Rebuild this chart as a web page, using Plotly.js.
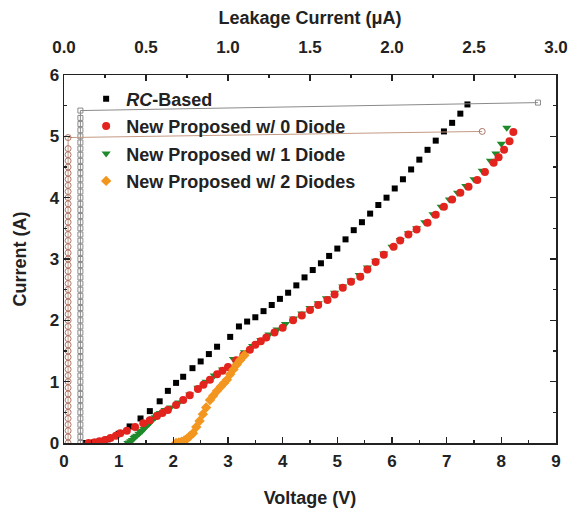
<!DOCTYPE html>
<html>
<head>
<meta charset="utf-8">
<script src="https://cdn.plot.ly/plotly-3.0.1.min.js"></script>
<style>html,body{margin:0;padding:0;background:#fff;}</style>
</head>
<body>
<div id="chart" style="width:574px;height:514px;"></div>
<script>
// ---- Data ----
const rcV = [0.4,0.6,0.8,1.0,1.2,1.4,1.57,1.75,1.9,2.05,2.18,2.35,2.5,2.65,2.8,3.04,3.2,3.35,3.5,3.65,3.8,3.95,4.1,4.25,4.4,4.55,4.7,4.85,5.0,5.15,5.3,5.45,5.6,5.75,5.9,6.05,6.2,6.35,6.5,6.65,6.8,6.95,7.1,7.25,7.38];
const rcI = [0,0.02,0.06,0.15,0.27,0.4,0.52,0.68,0.85,0.98,1.08,1.22,1.33,1.45,1.57,1.73,1.9,1.98,2.05,2.15,2.25,2.35,2.45,2.57,2.7,2.82,2.93,3.05,3.17,3.32,3.47,3.6,3.74,3.88,4.0,4.15,4.3,4.46,4.62,4.78,4.93,5.08,5.22,5.37,5.52];

const d0V = [0.45,0.55,0.65,0.75,0.85,0.95,1.03,1.15,1.3,1.45,1.57,1.7,1.8,1.9,2.05,2.18,2.3,2.45,2.55,2.67,2.8,2.9,3.0,3.15,3.28,3.4,3.5,3.6,3.7,3.85,4.0,4.19,4.35,4.5,4.65,4.82,4.95,5.1,5.25,5.42,5.55,5.7,5.85,6.03,6.15,6.3,6.45,6.65,6.8,6.95,7.1,7.25,7.4,7.56,7.7,7.86,7.95,8.05,8.15,8.22];
const d0I = [0,0.01,0.03,0.05,0.08,0.12,0.16,0.2,0.26,0.32,0.37,0.44,0.49,0.54,0.62,0.7,0.78,0.88,0.95,1.03,1.12,1.18,1.24,1.35,1.43,1.52,1.6,1.66,1.72,1.8,1.88,2.0,2.08,2.17,2.25,2.33,2.42,2.53,2.63,2.71,2.83,2.95,3.07,3.2,3.3,3.4,3.48,3.59,3.72,3.85,3.97,4.08,4.18,4.29,4.42,4.57,4.66,4.78,4.92,5.07];

const d1V = [1.17,1.2,1.22,1.25,1.28,1.3,1.33,1.37,1.4,1.43,1.46,1.49,1.52,1.55,1.58,1.61,1.64,1.67,1.7,1.73,1.76,1.85,1.95,2.1,2.3,2.45,2.6,2.75,2.9,3.1,3.3,3.45,3.6,3.75,3.9,4.05,4.2,4.35,4.5,4.65,4.8,4.95,5.1,5.25,5.4,5.55,5.7,5.85,6.0,6.15,6.3,6.45,6.6,6.75,6.9,7.05,7.2,7.35,7.5,7.65,7.8,7.9,8.0,8.1];
const d1I = [0,0.01,0.03,0.05,0.08,0.1,0.12,0.15,0.18,0.2,0.23,0.26,0.29,0.31,0.34,0.37,0.4,0.42,0.45,0.47,0.49,0.54,0.58,0.66,0.79,0.9,1.0,1.1,1.2,1.37,1.48,1.58,1.68,1.77,1.85,1.94,2.03,2.11,2.2,2.28,2.36,2.45,2.55,2.65,2.74,2.86,2.97,3.09,3.2,3.31,3.42,3.5,3.6,3.73,3.85,3.97,4.08,4.19,4.3,4.44,4.6,4.72,4.88,5.14];

const d2V = [2.05,2.1,2.15,2.2,2.25,2.3,2.36,2.42,2.48,2.54,2.6,2.67,2.73,2.8,2.87,2.93,2.98,3.04,3.1,3.16,3.22,3.3];
const d2I = [0,0.01,0.02,0.04,0.07,0.11,0.16,0.26,0.36,0.47,0.58,0.7,0.77,0.85,0.92,0.98,1.03,1.12,1.2,1.28,1.35,1.43];

// Leakage current (top axis, uA) vs current (A)
const leakRcX = [0.1,0.1,0.1,0.1,0.1,0.1,0.1,0.1,0.1,0.1,0.1,0.1,0.1,0.1,0.1,0.1,0.1,0.1,0.1,0.1,0.1,0.1,0.1,0.1,0.1,0.1,0.1,0.1,0.1,0.1,0.1,0.1,0.1,0.1,0.1,0.1,0.1,0.1,0.1,0.1,0.1,0.1,0.1,0.1,0.1,0.1,0.1,0.1,0.1,0.1,0.1,0.1,0.1,0.1,0.1,2.89];
const leakRcI = [0,0.1,0.2,0.3,0.4,0.5,0.6,0.7,0.8,0.9,1.0,1.1,1.2,1.3,1.4,1.5,1.6,1.7,1.8,1.9,2.0,2.1,2.2,2.3,2.4,2.5,2.6,2.7,2.8,2.9,3.0,3.1,3.2,3.3,3.4,3.5,3.6,3.7,3.8,3.9,4.0,4.1,4.2,4.3,4.4,4.5,4.6,4.7,4.8,4.9,5.0,5.1,5.2,5.3,5.42,5.55];
const leakNewX = [0.025,0.025,0.025,0.025,0.025,0.025,0.025,0.025,0.025,0.025,0.025,0.025,0.025,0.025,0.025,0.025,0.025,0.025,0.025,0.025,0.025,0.025,0.025,0.025,0.025,0.025,0.025,0.025,0.025,0.025,0.025,0.025,0.025,0.025,0.025,0.025,0.025,0.025,0.025,0.025,0.025,0.025,0.025,0.025,0.025,0.025,0.025,0.025,0.025,0.025,2.55];
const leakNewI = [0,0.1,0.2,0.3,0.4,0.5,0.6,0.7,0.8,0.9,1.0,1.1,1.2,1.3,1.4,1.5,1.6,1.7,1.8,1.9,2.0,2.1,2.2,2.3,2.4,2.5,2.6,2.7,2.8,2.9,3.0,3.1,3.2,3.3,3.4,3.5,3.6,3.7,3.8,3.9,4.0,4.1,4.2,4.3,4.4,4.5,4.6,4.7,4.8,4.98,5.08];

const seriesNames = ['<i>RC</i>-Based','New Proposed w/ 0 Diode','New Proposed w/ 1 Diode','New Proposed w/ 2 Diodes'];
const xTitle = 'Voltage (V)';
const x2Title = 'Leakage Current (\u03BCA)';
const yTitle = 'Current (A)';

const FONT = 'Liberation Sans, Arial, sans-serif';
const TXT = '#222';

const traces = [
  {x: leakRcX, y: leakRcI, xaxis:'x2', yaxis:'y', mode:'lines+markers', showlegend:false,
   line:{color:'#8a8a8a', width:1},
   marker:{symbol:'square-open', size:5, color:'#8a8a8a', line:{width:1}}},
  {x: leakNewX, y: leakNewI, xaxis:'x2', yaxis:'y', mode:'lines+markers', showlegend:false,
   line:{color:'#c49a84', width:1},
   marker:{symbol:'circle-open', size:6, color:'#b0766a', line:{width:1}}},
  {x: rcV, y: rcI, name: seriesNames[0], mode:'markers', legendrank:1, legendgroup:'a',
   marker:{symbol:'square', size:6, color:'#000'}},
  {x: d1V, y: d1I, name: seriesNames[2], mode:'markers', legendrank:3, legendgroup:'c',
   marker:{symbol:'triangle-down', size:8, color:'#1e8a2a'}},
  {x: d0V, y: d0I, name: seriesNames[1], mode:'markers', legendrank:2, legendgroup:'b',
   marker:{symbol:'circle', size:8, color:'#e3231d'}},
  {x: d2V, y: d2I, name: seriesNames[3], mode:'markers', legendrank:4, legendgroup:'d',
   marker:{symbol:'diamond', size:8, color:'#f3961f'}}
];

const tickFont = {family: FONT, size: 17, color: TXT, weight: 'bold'};
const titleFont = {family: FONT, size: 18, color: TXT, weight: 'bold'};
const layout = {
  width: 574, height: 514,
  margin: {l: 64, r: 18, t: 75, b: 71},
  paper_bgcolor: '#fff', plot_bgcolor: '#fff',
  font: {family: FONT, color: TXT},
  showlegend: true,
  legend: {x: 0.045, y: 0.985, xanchor: 'left', yanchor: 'top',
    bgcolor: 'rgba(0,0,0,0)', borderwidth: 0, tracegroupgap: 1,
    traceorder: 'grouped', font: {family: FONT, size: 18, color: TXT, weight: 'bold'}},
  xaxis: {range: [0, 9], dtick: 1, tick0: 0, ticks: 'inside', ticklen: 6, tickwidth: 1.5,
    tickcolor: '#222', showline: true, linecolor: '#222', linewidth: 1.5,
    showgrid: false, zeroline: false, tickfont: tickFont, ticklabelstandoff: 2,
    minor: {dtick: 0.5, ticks: 'inside', ticklen: 3, tickwidth: 1.2, tickcolor: '#222'},
    title: {text: xTitle, font: titleFont, standoff: 21}},
  xaxis2: {range: [0, 3], dtick: 0.5, tick0: 0, overlaying: 'x', side: 'top', anchor: 'y',
    ticks: 'inside', ticklen: 6, tickwidth: 1.5, tickcolor: '#222', tickformat: '.1f',
    showline: true, linecolor: '#222', linewidth: 1.5, showgrid: false, zeroline: false,
    tickfont: tickFont, ticklabelstandoff: 14,
    minor: {dtick: 0.25, ticks: 'inside', ticklen: 3, tickwidth: 1.2, tickcolor: '#222'},
    title: {text: x2Title, font: titleFont, standoff: 8}},
  yaxis: {range: [0, 6], dtick: 1, tick0: 0, ticks: 'inside', ticklen: 6, tickwidth: 1.5,
    tickcolor: '#222', showline: true, linecolor: '#222', linewidth: 1.5, mirror: 'ticks',
    showgrid: false, zeroline: false, tickfont: tickFont,
    minor: {dtick: 0.5, ticks: 'inside', ticklen: 3, tickwidth: 1.2, tickcolor: '#222'},
    title: {text: yTitle, font: titleFont, standoff: 18}}
};

Plotly.newPlot('chart', traces, layout, {displayModeBar: false, staticPlot: true});
</script>
</body>
</html>
